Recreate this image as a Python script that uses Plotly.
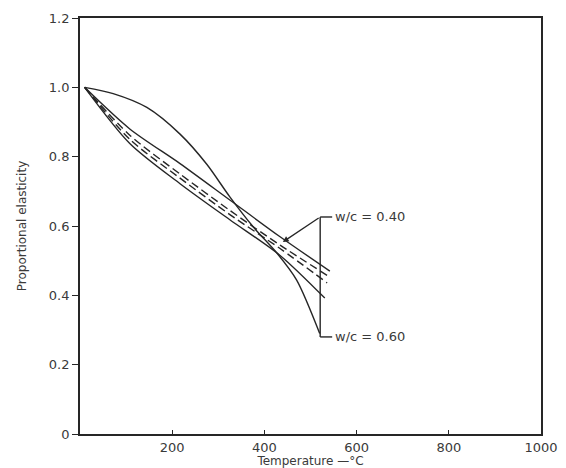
import plotly.graph_objects as go

# ---- data ----
temp_concave = [10, 72, 145, 217, 275, 325, 376, 427, 470, 520]
elast_concave = [1.0, 0.982, 0.942, 0.865, 0.778, 0.684, 0.597, 0.522, 0.444, 0.29]

temp_upper = [10, 108, 217, 325, 434, 542]
elast_upper = [1.0, 0.88, 0.78, 0.675, 0.569, 0.47]

temp_dash1 = [10, 108, 217, 325, 434, 538]
elast_dash1 = [1.0, 0.862, 0.75, 0.645, 0.545, 0.456]

temp_dash2 = [10, 108, 217, 325, 434, 536]
elast_dash2 = [1.0, 0.85, 0.738, 0.633, 0.535, 0.436]

temp_lower = [10, 108, 217, 325, 434, 531]
elast_lower = [1.0, 0.838, 0.722, 0.618, 0.515, 0.392]

x_tickvals = [200, 400, 600, 800, 1000]
x_ticktext = ["200", "400", "600", "800", "1000"]
y_tickvals = [0, 0.2, 0.4, 0.6, 0.8, 1.0, 1.2]
y_ticktext = ["0", "0.2", "0.4", "0.6", "0.8", "1.0", "1.2"]

label_040 = "w/c = 0.40"
label_060 = "w/c = 0.60"
bracket_x = 521
bracket_top = 0.626
bracket_bottom = 0.28
stub_end_x = 547
pointer_tip = (440, 0.554)

LINE = "#262626"
TEXT = "#3a3a3a"
FONT = "DejaVu Sans"

fig = go.Figure()
series = [
    (temp_concave, elast_concave, "solid"),
    (temp_upper, elast_upper, "solid"),
    (temp_dash1, elast_dash1, "8px,4px"),
    (temp_dash2, elast_dash2, "8px,4px"),
    (temp_lower, elast_lower, "solid"),
]
for xs, ys, dash in series:
    fig.add_trace(go.Scatter(x=xs, y=ys, mode="lines",
                             line=dict(color=LINE, width=1.4, dash=dash, shape="spline", smoothing=0.8),
                             showlegend=False, hoverinfo="skip"))

# bracket annotation
fig.add_shape(type="line", x0=bracket_x, x1=bracket_x, y0=bracket_bottom, y1=bracket_top,
              line=dict(color=LINE, width=1.4))
fig.add_shape(type="line", x0=bracket_x, x1=stub_end_x, y0=bracket_top, y1=bracket_top,
              line=dict(color=LINE, width=1.4))
fig.add_shape(type="line", x0=bracket_x, x1=stub_end_x, y0=bracket_bottom, y1=bracket_bottom,
              line=dict(color=LINE, width=1.4))
fig.add_annotation(x=pointer_tip[0], y=pointer_tip[1], ax=bracket_x, ay=bracket_top,
                   axref="x", ayref="y", xref="x", yref="y", text="", showarrow=True,
                   arrowhead=2, arrowsize=0.9, arrowwidth=1.3, arrowcolor=LINE)
fig.add_annotation(x=stub_end_x + 2, y=bracket_top, text=label_040, showarrow=False,
                   xanchor="left", yanchor="middle", font=dict(family=FONT, size=13, color=TEXT))
fig.add_annotation(x=stub_end_x + 2, y=bracket_bottom, text=label_060, showarrow=False,
                   xanchor="left", yanchor="middle", font=dict(family=FONT, size=13, color=TEXT))

fig.update_layout(
    width=566, height=468,
    margin=dict(l=80, r=25, t=18, b=34),
    paper_bgcolor="white", plot_bgcolor="white",
    font=dict(family=FONT, size=13, color=TEXT),
    xaxis=dict(range=[0, 1000], tickvals=x_tickvals, ticktext=x_ticktext, automargin=False,
               showgrid=False, zeroline=False, showline=True, linecolor=LINE, linewidth=1.8,
               mirror=True, ticks="inside", ticklen=4, tickcolor=LINE,
               title=dict(text="Temperature —°C", standoff=0, font=dict(size=12))),
    yaxis=dict(range=[0, 1.2], tickvals=y_tickvals, ticktext=y_ticktext, automargin=False,
               showgrid=False, zeroline=False, showline=True, linecolor=LINE, linewidth=1.8,
               mirror=True, ticks="outside", ticklen=6, tickcolor=LINE,
               title=dict(text="Proportional elasticity", standoff=20, font=dict(size=12))),
)

fig.write_html("out.html", config={"displayModeBar": False},
               post_script="document.body.style.margin='0px';document.body.style.overflow='hidden';")
